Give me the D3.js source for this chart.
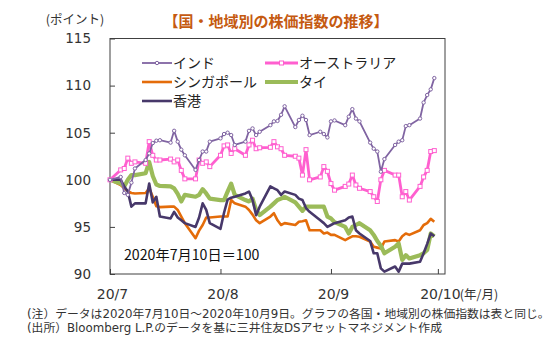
<!DOCTYPE html>
<html>
<head>
<meta charset="utf-8">
<script src="https://cdn.jsdelivr.net/npm/d3@7"></script>
<style>
  html, body { margin: 0; padding: 0; background: #fff; }
  svg { display: block; }
</style>
</head>
<body>
<svg id="chart" width="557" height="339"></svg>
<script>
// ---- data ----
const dates = [
  "2020-07-10","2020-07-13","2020-07-14","2020-07-15","2020-07-16","2020-07-17",
  "2020-07-20","2020-07-21","2020-07-22","2020-07-23","2020-07-24",
  "2020-07-27","2020-07-28","2020-07-29","2020-07-30","2020-07-31",
  "2020-08-03","2020-08-04","2020-08-05","2020-08-06","2020-08-07",
  "2020-08-10","2020-08-11","2020-08-12","2020-08-13","2020-08-14",
  "2020-08-17","2020-08-18","2020-08-19","2020-08-20","2020-08-21",
  "2020-08-24","2020-08-25","2020-08-26","2020-08-27","2020-08-28",
  "2020-08-31","2020-09-01","2020-09-02","2020-09-03","2020-09-04",
  "2020-09-07","2020-09-08","2020-09-09","2020-09-10","2020-09-11",
  "2020-09-14","2020-09-15","2020-09-16","2020-09-17","2020-09-18",
  "2020-09-21","2020-09-22","2020-09-23","2020-09-24","2020-09-25",
  "2020-09-28","2020-09-29","2020-09-30","2020-10-01","2020-10-02",
  "2020-10-05","2020-10-06","2020-10-07","2020-10-08","2020-10-09"
];
const india = [
  100, 100.3, 98.6, 98.4, 99.7, 101.2,
  102.1, 102.8, 103.9, 104.15, 104.2,
  103.95, 105.2, 104.05, 103.2, 102.6,
  101.05, 102.1, 103.0, 103.0, 104.05,
  104.4, 104.86, 105.0, 104.75, 103.7,
  104.05, 105.2, 105.45, 104.75, 105.1,
  105.8, 106.2, 106.25, 106.9, 107.8,
  105.6, 106.35, 106.8, 106.35, 104.75,
  105.1, 104.86, 104.5, 106.2, 106.3,
  105.8, 106.7, 107.5, 106.5, 106.2,
  103.95, 103.3, 103.0, 100.86, 102.2,
  103.7, 104.05, 104.2, 105.7, 105.8,
  106.5, 108.2, 109.0, 109.6, 110.8
];
const australia = [
  100, 101.05, 101.2, 102.3, 101.75, 101.9,
  101.75, 104.05, 102.6, 102.1, 102.1,
  102.2, 101.9, 102.1, 101.0, 100.1,
  100.1, 102.1, 101.75, 101.9, 101.4,
  102.6, 103.6, 103.7, 102.8, 103.3,
  102.6, 103.7, 104.2, 103.3, 103.4,
  103.45, 104.05, 103.5, 103.3, 102.6,
  102.5, 102.3, 100.5, 103.2, 100.0,
  100.3, 101.4, 100.9, 99.6, 98.9,
  99.3, 99.55, 100.5, 99.45, 99.1,
  98.75, 98.2, 97.7, 100.0, 101.0,
  100.5, 100.5, 98.2, 98.75, 97.85,
  99.3, 100.3, 101.0, 103.0, 103.1
];
const singapore = [
  100, 99.45, 99.1, 98.8, 98.6, 98.55,
  98.6, 99.1, 98.2, 97.2, 97.1,
  97.15, 97.15, 96.8, 96.1, 95.4,
  93.8, 94.6, 95.2, 96.0, 96.0,
  96.1, 96.1, 96.1, 97.85, 97.5,
  97.15, 96.8, 96.3, 95.7, 95.4,
  96.1, 96.45, 95.7, 95.2, 95.4,
  95.2, 95.55, 95.6, 95.7, 94.65,
  94.65, 94.3, 94.4, 94.15, 94.15,
  93.6, 93.8, 94.0, 94.0, 93.95,
  93.45, 92.9, 92.8, 92.7, 93.45,
  93.6, 93.45, 94.0, 94.3, 94.15,
  94.65, 95.2, 95.4, 95.85, 95.55
];
const thailand = [
  100, 99.6, 99.3, 100.0, 100.5, 100.5,
  100.7, 101.9, 100.4, 99.5, 99.35,
  99.3, 99.1, 98.5, 97.7, 98.4,
  98.2, 98.4, 99.0, 98.55, 98.0,
  97.85, 97.85, 98.75, 99.6, 98.4,
  97.85, 97.7, 98.0, 96.8, 96.25,
  97.15, 97.5, 97.85, 98.0, 98.2,
  97.6, 97.15, 96.7, 97.15, 97.15,
  97.15, 97.15, 96.1, 95.9, 95.5,
  95.0, 94.3, 95.0, 95.2, 95.4,
  94.65, 94.15, 93.5, 93.0, 92.2,
  92.9, 93.25, 91.5, 92.0, 91.65,
  92.0, 92.2, 92.55, 94.3, 94.0
];
const hongkong = [
  100, 100.0, 99.3, 98.75, 97.15, 97.5,
  97.5, 99.6, 97.6, 98.2, 96.1,
  95.9, 96.6, 96.0, 95.7, 95.4,
  95.0, 96.0, 97.5, 96.8, 95.4,
  94.8, 96.5, 97.9, 98.1, 98.2,
  98.55, 98.75, 97.85, 96.25, 97.15,
  99.3, 99.1, 98.9, 98.4, 98.75,
  98.4, 98.0, 97.85, 97.0, 96.6,
  95.7, 95.4, 95.0, 95.2, 95.4,
  95.7, 96.0, 96.1, 94.65, 94.3,
  93.5, 92.2, 92.2, 90.6, 90.25,
  90.8, 90.25, 91.1, 91.1, 91.1,
  91.3, 92.2, 93.2, 94.3, 94.0
];
const seriesNames = ["インド", "オーストラリア", "シンガポール", "タイ", "香港"];
const yTicks = [90, 95, 100, 105, 110, 115];
const xTickDates = ["2020-07-10", "2020-08-10", "2020-09-10", "2020-10-10"];
const xTickLabels = ["20/7", "20/8", "20/9", "20/10"];

// ---- drawing ----
const parse = d3.timeParse("%Y-%m-%d");
const svg = d3.select("#chart");
const jp = "'Noto Sans CJK JP', 'Noto Sans', sans-serif";
const num = "'DejaVu Sans', 'Noto Sans CJK JP', sans-serif";

const x = d3.scaleTime()
  .domain([parse("2020-07-10"), parse("2020-10-12")])
  .range([110, 445]);
const y = d3.scaleLinear().domain([90, 115]).range([274, 38.5]);

const styles = [
  { key: "india",     values: india,     color: "#8064a2", width: 1.8, marker: "circle" },
  { key: "australia", values: australia, color: "#ff5fcf", width: 2.8, marker: "square" },
  { key: "singapore", values: singapore, color: "#e46c0a", width: 2.6, marker: null },
  { key: "thailand",  values: thailand,  color: "#9bbb59", width: 4.2, marker: null },
  { key: "hongkong",  values: hongkong,  color: "#47386a", width: 2.6, marker: null }
];
styles.forEach((s, i) => { s.name = seriesNames[i]; });

// title
svg.append("text")
  .attr("x", 276).attr("y", 27)
  .attr("text-anchor", "middle")
  .attr("font-family", jp).attr("font-weight", "bold")
  .attr("font-size", 15).attr("fill", "#c55a11")
  .text("【国・地域別の株価指数の推移】");

// unit label
svg.append("text")
  .attr("x", 75).attr("y", 24)
  .attr("text-anchor", "middle")
  .attr("font-family", jp).attr("font-size", 12.5).attr("fill", "#333")
  .text("(ポイント)");

// y axis
const yAxis = svg.append("g")
  .attr("transform", "translate(110,0)")
  .call(d3.axisLeft(y).tickValues(yTicks).tickSize(-5).tickPadding(19).tickFormat(d3.format("d")));
yAxis.select(".domain").remove();
yAxis.selectAll("line").attr("stroke", "#404040");
yAxis.selectAll("text").attr("font-family", num).attr("font-size", 13.5).attr("fill", "#333");

// x axis
const xAxis = svg.append("g")
  .attr("transform", "translate(0,274)")
  .call(d3.axisBottom(x).tickValues(xTickDates.map(parse)).tickSize(-5).tickPadding(15)
    .tickFormat((d, i) => xTickLabels[i]));
xAxis.select(".domain").remove();
xAxis.selectAll("line").attr("stroke", "#404040");
xAxis.selectAll("text").attr("font-family", num).attr("font-size", 14).attr("fill", "#333")
  .attr("dx", 2);
// unit after last label
const lastTickX = x(parse(xTickDates[xTickDates.length - 1]));
svg.append("text")
  .attr("x", lastTickX + 22).attr("y", 299)
  .attr("font-family", jp).attr("font-size", 12.5).attr("fill", "#333")
  .text("(年/月)");

// frame
svg.append("rect")
  .attr("x", 110).attr("y", 38.5)
  .attr("width", 335).attr("height", 274 - 38.5)
  .attr("fill", "none").attr("stroke", "#404040").attr("stroke-width", 1);

const line = d3.line()
  .x((d, i) => x(parse(dates[i])))
  .y(d => y(d));

const drawOrder = ["singapore", "thailand", "hongkong", "australia", "india"];
drawOrder.forEach(k => {
  const s = styles.find(t => t.key === k);
  svg.append("path")
    .datum(s.values)
    .attr("d", line)
    .attr("fill", "none")
    .attr("stroke", s.color)
    .attr("stroke-width", s.width)
    .attr("stroke-linejoin", "round");
  if (s.marker === "circle") {
    svg.append("g").selectAll("circle").data(s.values).join("circle")
      .attr("cx", (d, i) => x(parse(dates[i])))
      .attr("cy", d => y(d))
      .attr("r", 1.7)
      .attr("fill", "#fff").attr("stroke", s.color).attr("stroke-width", 1);
  } else if (s.marker === "square") {
    svg.append("g").selectAll("rect").data(s.values).join("rect")
      .attr("x", (d, i) => x(parse(dates[i])) - 2)
      .attr("y", d => y(d) - 2)
      .attr("width", 4).attr("height", 4)
      .attr("fill", "#fff").attr("stroke", s.color).attr("stroke-width", 1);
  }
});

// legend
const legendPos = [
  { key: "india", x: 142, y: 63 },
  { key: "australia", x: 265, y: 63 },
  { key: "singapore", x: 142, y: 82 },
  { key: "thailand", x: 265, y: 82 },
  { key: "hongkong", x: 142, y: 101 }
];
legendPos.forEach(p => {
  const s = styles.find(t => t.key === p.key);
  const w = p.x > 200 ? 33 : 30;
  const g = svg.append("g");
  g.append("line")
    .attr("x1", p.x).attr("x2", p.x + w)
    .attr("y1", p.y).attr("y2", p.y)
    .attr("stroke", s.color).attr("stroke-width", s.width);
  if (s.marker === "circle") {
    g.append("circle").attr("cx", p.x + w / 2).attr("cy", p.y).attr("r", 1.7)
      .attr("fill", "#fff").attr("stroke", s.color).attr("stroke-width", 1);
  } else if (s.marker === "square") {
    g.append("rect").attr("x", p.x + w / 2 - 2).attr("y", p.y - 2).attr("width", 4).attr("height", 4)
      .attr("fill", "#fff").attr("stroke", s.color).attr("stroke-width", 1);
  }
  g.append("text")
    .attr("x", p.x + w + 1).attr("y", p.y + 5)
    .attr("font-family", jp).attr("font-size", 14).attr("fill", "#222")
    .text(s.name);
});

// base annotation
svg.append("text")
  .attr("x", 124).attr("y", 260)
  .attr("font-family", jp).attr("font-size", 14.2).attr("fill", "#111")
  .text("2020年7月10日＝100");

// notes
const noteFont = "'DejaVu Sans', 'Noto Sans CJK JP', sans-serif";
svg.append("text")
  .attr("x", 27).attr("y", 318)
  .attr("font-family", noteFont).attr("font-size", 11.8).attr("fill", "#333")
  .text("(注）データは2020年7月10日～2020年10月9日。グラフの各国・地域別の株価指数は表と同じ。");
svg.append("text")
  .attr("x", 27).attr("y", 332)
  .attr("font-family", noteFont).attr("font-size", 11.8).attr("fill", "#333")
  .text("(出所）Bloomberg L.P.のデータを基に三井住友DSアセットマネジメント作成");
</script>
</body>
</html>
